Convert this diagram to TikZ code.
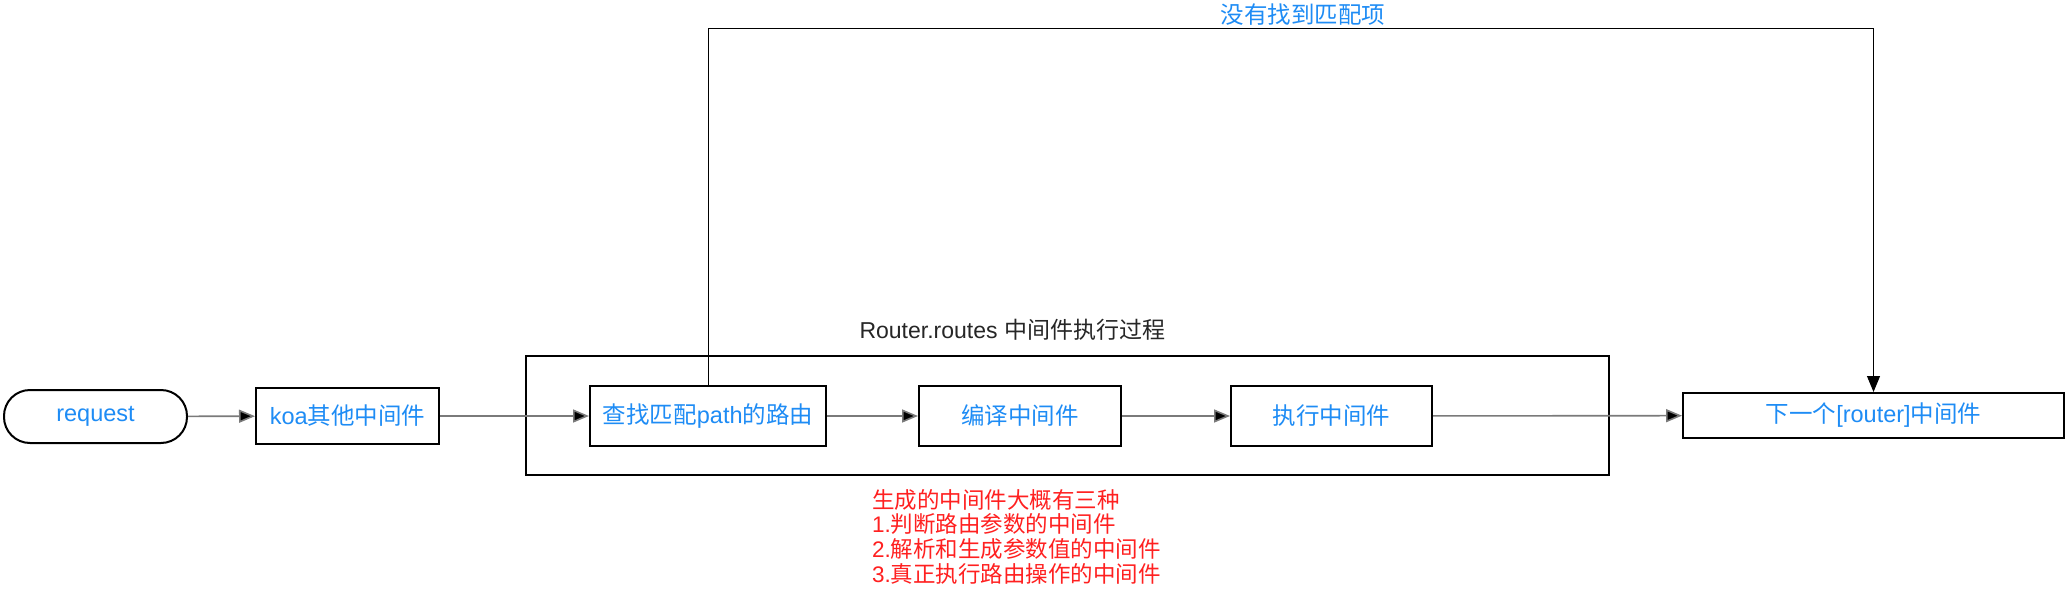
\documentclass[tikz,border=0pt]{standalone}
\usepackage{fontspec}
\setmainfont{Liberation Sans}
\newfontfamily\cjk{Noto Sans CJK SC}
\usetikzlibrary{arrows.meta}
\definecolor{txtblue}{HTML}{1E8CF5}
\definecolor{txtred}{HTML}{FF2020}
\definecolor{linegray}{HTML}{7A7A7A}
\begin{document}
\begin{tikzpicture}[x=1pt,y=-1pt,
  box/.style={draw=black,line width=2pt,inner sep=0pt,text=txtblue,font=\fontsize{23.5}{27}\selectfont},
  conn/.style={draw=linegray,line width=1.6pt,-{Triangle[length=16pt,width=13pt,fill=black]}},
  tconn/.style={draw=black,line width=1pt,-{Triangle[length=16pt,width=13pt,fill=black]}}]
\useasboundingbox[fill=white] (0,0) rectangle (2068,591);
\node[box,rounded corners=26pt,minimum width=183pt,minimum height=53pt] (req) at (95.5,416.5) {request};
\node[box,minimum width=183pt,minimum height=56pt] (koa) at (347.5,416) {koa{\cjk 其他中间件}};
\node[draw=black,line width=2pt,minimum width=1083pt,minimum height=119pt,inner sep=0pt] (cont) at (1067.5,415.5) {};
\node[box,minimum width=236pt,minimum height=60pt] (find) at (708,416) {{\cjk 查找匹配}path{\cjk 的路由}};
\node[box,minimum width=202pt,minimum height=60pt] (comp) at (1020,416) {\cjk 编译中间件};
\node[box,minimum width=201pt,minimum height=60pt] (exec) at (1331.5,416) {\cjk 执行中间件};
\node[box,minimum width=381pt,minimum height=45pt] (next) at (1873.5,415.5) {{\cjk 下一个}[router]{\cjk 中间件}};
\coordinate (top) at (0,29);
\node[text=txtblue,font=\fontsize{23.5}{27}\selectfont\cjk] (nomatch) at (1303,15) {没有找到匹配项};
\node[anchor=west,text=black!85,font=\fontsize{23}{27}\selectfont] (title) at (856,330) {Router.routes {\cjk 中间件执行过程}};
\node[anchor=north west,align=left,text=txtred,inner sep=0pt,font=\fontsize{22.5}{24.7}\selectfont] (note) at (872,489)
  {{\cjk 生成的中间件大概有三种}\\1.{\cjk 判断路由参数的中间件}\\2.{\cjk 解析和生成参数值的中间件}\\3.{\cjk 真正执行路由操作的中间件}};
\draw[conn] (req) -- (koa);
\draw[conn] (koa) -- (find);
\draw[conn] (find) -- (comp);
\draw[conn] (comp) -- (exec);
\draw[conn] (exec) -- (next);
\draw[tconn] (find.north) -- (find.north |- top) -| (next.north);
\end{tikzpicture}
\end{document}
